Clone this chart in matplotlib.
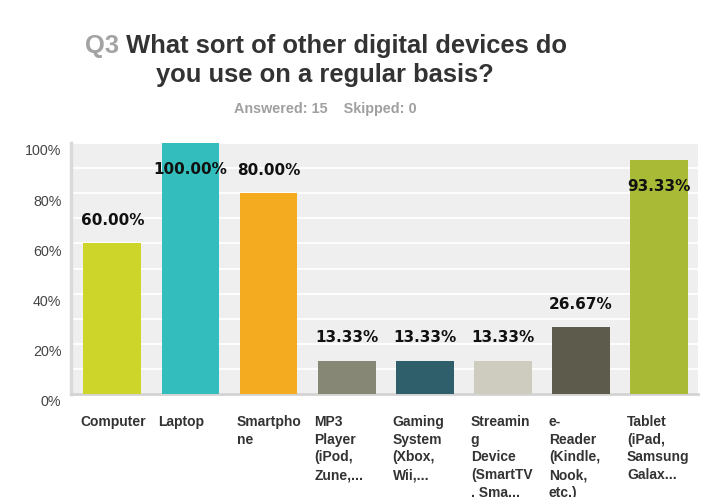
import numpy as np
import matplotlib.pyplot as plt
from matplotlib.transforms import ScaledTranslation, blended_transform_factory

# survey answers (percent of respondents)
devices = ["Computer", "Laptop", "Smartpho\nne", "MP3\nPlayer\n(iPod,\nZune,...",
           "Gaming\nSystem\n(Xbox,\nWii,...", "Streamin\ng\nDevice\n(SmartTV\n, Sma...",
           "e-\nReader\n(Kindle,\nNook,\netc.)", "Tablet\n(iPad,\nSamsung\nGalax..."]
percents = [60.00, 100.00, 80.00, 13.33, 13.33, 13.33, 26.67, 93.33]
bar_colors = ["#cdd42a", "#33bdbd", "#f5ab1f", "#878776",
              "#2e5f6b", "#cecbbf", "#5c5b4c", "#a9bb36"]
yticks = [0, 20, 40, 60, 80, 100]

W, H = 704, 497
fig = plt.figure(figsize=(W / 100, H / 100), dpi=100)
fig.patch.set_facecolor("white")

ax = fig.add_axes([71 / W, 1 - 394 / H, 627 / W, 251 / H])
ax.set_facecolor("#efefef")

x = np.arange(len(devices))
bw = 0.74
ax.bar(x, percents, width=bw, color=bar_colors, zorder=3)

ax.set_xlim(-0.53, 7.5)
ax.set_ylim(0, 100)
ax.grid(axis="y", color="white", linewidth=1.3, zorder=1)
ax.set_yticks(np.arange(0, 101, 10))
ax.set_yticklabels([f"{v}%" if v in yticks else "" for v in range(0, 101, 10)],
                   fontfamily="Liberation Sans", fontsize=10.3, color="#444444")
ax.tick_params(axis="y", length=0, pad=7)
for lbl in ax.get_yticklabels():
    lbl.set_transform(lbl.get_transform() + ScaledTranslation(0, -7 / 100, fig.dpi_scale_trans))
ax.set_xticks([])

for side in ["top", "right"]:
    ax.spines[side].set_visible(False)
ax.spines["left"].set_color("#dadada")
ax.spines["left"].set_linewidth(2.5)
ax.spines["bottom"].set_color("#d3d3d3")
ax.spines["bottom"].set_linewidth(2)

# value labels: above the bar, or inside it when there's no room above
for xi, v in zip(x, percents):
    dy = -19 if v > 85 else 16.5
    ax.annotate(f"{v:.2f}%", xy=(xi, v), xytext=(0, dy), textcoords="offset points",
                ha="center", va="center", fontsize=11, fontweight="bold",
                fontfamily="DejaVu Sans", color="#111111", zorder=5,
                annotation_clip=False)

# category names, left aligned under each bar (long ones run off the bottom)
tr = blended_transform_factory(ax.transData, ax.transAxes)
for xi, name in zip(x, devices):
    ax.text(xi - 0.41, -0.083, name, transform=tr, ha="left", va="top",
            fontsize=10, fontweight="bold", fontfamily="Liberation Sans",
            color="#333333", linespacing=1.34)

# title
q = fig.text(85 / W, 1 - 53 / H, "Q3", ha="left", va="baseline", fontsize=18.4,
             fontweight="bold", fontfamily="Liberation Sans", color="#a3a3a3")
ax.annotate(" What sort of other digital devices do", xy=(1, 0), xycoords=q,
            ha="left", va="bottom", fontsize=18.4, fontweight="bold",
            fontfamily="Liberation Sans", color="#333333", annotation_clip=False)
fig.text(325 / W, 1 - 82 / H, "you use on a regular basis?", ha="center", va="baseline",
         fontsize=18.4, fontweight="bold", fontfamily="Liberation Sans", color="#333333")
fig.text(325 / W, 1 - 113 / H, "Answered: 15    Skipped: 0", ha="center", va="baseline",
         fontsize=10.4, fontweight="bold", fontfamily="Liberation Sans", color="#a0a0a0")

fig.savefig("out.png", dpi=100)
